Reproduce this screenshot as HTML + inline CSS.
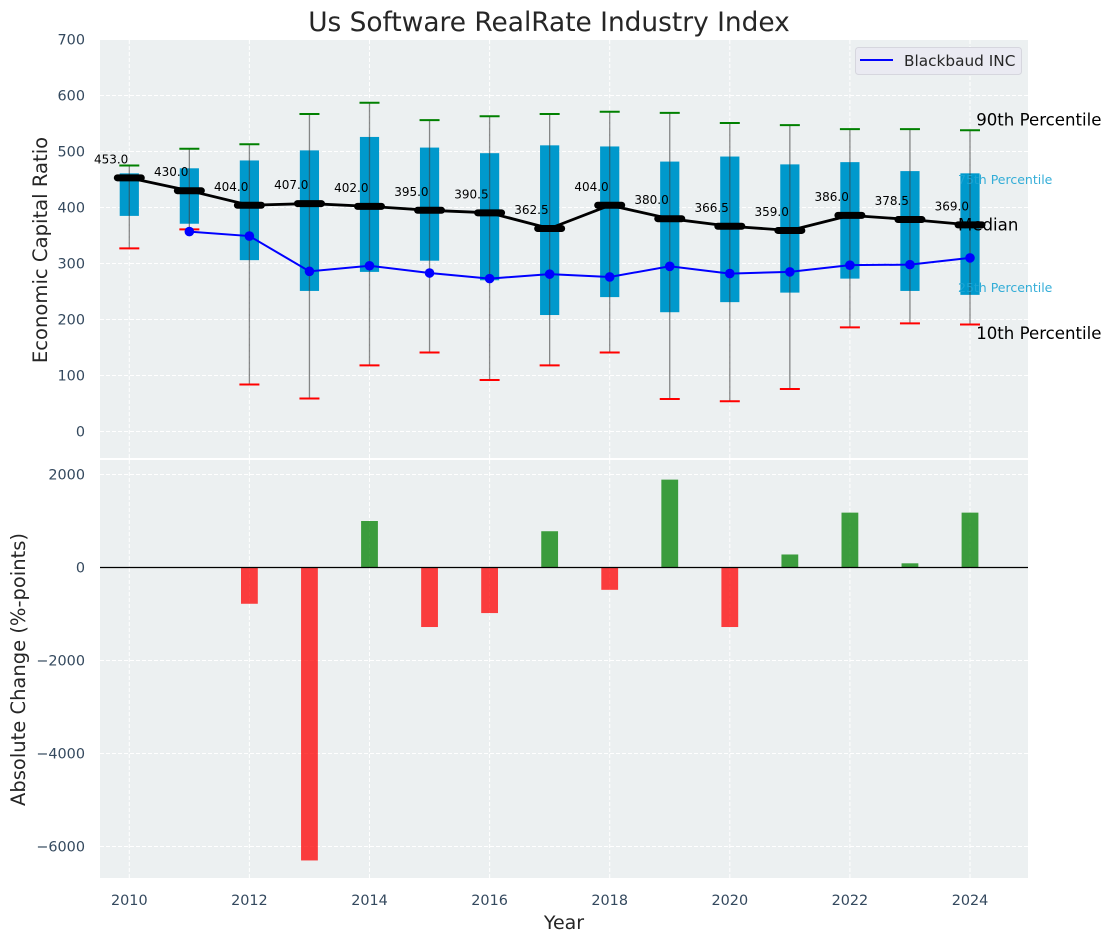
<!DOCTYPE html>
<html>
<head>
<meta charset="utf-8">
<title>Us Software RealRate Industry Index</title>
<style>
html,body{margin:0;padding:0;background:#fff;}
svg{display:block;font-family:"DejaVu Sans","Liberation Sans",sans-serif;}
</style>
</head>
<body>
<svg id="chart" xmlns="http://www.w3.org/2000/svg" width="1111" height="942" viewBox="0 0 1111 942">
  <rect x="100" y="40" width="928" height="418" fill="#ecf0f1"/>
  <rect x="100" y="460" width="928" height="418" fill="#ecf0f1"/>
  <g id="grid"></g>
  <g id="bars"></g>
  <line id="zero" x1="100" x2="1028" stroke="#000" stroke-width="1.2"/>
  <g id="boxes"></g>
  <g id="whiskers"></g>
  <g id="median"></g>
  <g id="company"></g>
  <g id="labels"></g>
  <g id="ticks"></g>
  <g id="notes">
    <text id="note90" font-size="16.6" fill="#000">90th Percentile</text>
    <text id="note75" font-size="12.5" fill="#1fa5d4" fill-opacity="0.9">75th Percentile</text>
    <text id="note50" font-size="16.6" fill="#000">Median</text>
    <text id="note25" font-size="12.5" fill="#1fa5d4" fill-opacity="0.9">25th Percentile</text>
    <text id="note10" font-size="16.6" fill="#000">10th Percentile</text>
  </g>
  <text x="549" y="31" text-anchor="middle" font-size="26.4" fill="#262626">Us Software RealRate Industry Index</text>
  <text transform="translate(47 250) rotate(-90)" text-anchor="middle" font-size="19.6" fill="#262626">Economic Capital Ratio</text>
  <text transform="translate(25 669.5) rotate(-90)" text-anchor="middle" font-size="19.5" fill="#262626">Absolute Change (%-points)</text>
  <text x="564" y="929" text-anchor="middle" font-size="19" fill="#262626">Year</text>
  <g>
    <rect x="855.5" y="47.5" width="166" height="27" rx="3" fill="#eaeaf2" stroke="#d6d6de"/>
    <line x1="860" x2="893" y1="60" y2="60" stroke="#0000ff" stroke-width="2"/>
    <text x="904" y="66" font-size="15.3" fill="#262626">Blackbaud INC</text>
  </g>
</svg>
<script>
const years = [2010,2011,2012,2013,2014,2015,2016,2017,2018,2019,2020,2021,2022,2023,2024];
const p90 = [475,505,513,567,587,556,563,567,571,569,551,547,540,540,538];
const p75 = [461,470,484,502,526,507,497,511,509,482,491,477,481,465,461];
const medianValues = [453,430,404,407,402,395,390.5,362.5,404,380,366.5,359,386,378.5,369];
const p25 = [385,371,306,251,285,305,270,208,240,213,231,248,273,251,244];
const p10 = [327,361,84,59,118,141,92,118,141,58,54,76,186,193,191];
const companyValues = [null,357,349,286,296,283,273,281,276,295,282,285,297,298,310];
const changeValues = [null,null,-780,-6300,1000,-1280,-980,780,-480,1890,-1280,280,1180,90,1180];
const xTicks = [2010,2012,2014,2016,2018,2020,2022,2024];
const upperTicks = [0,100,200,300,400,500,600,700];
const lowerTicks = [-6000,-4000,-2000,0,2000];

const NS = 'http://www.w3.org/2000/svg';
const xOf = v => 129.3 + (v - 2010) * 60.05;
const yUp = v => 431.5 - v * 0.56;
const yLow = v => 567.5 - v * 0.0465;
const byId = id => document.getElementById(id);
function make(tag, parent, attrs, text) {
  const el = document.createElementNS(NS, tag);
  for (const k in attrs) el.setAttribute(k, attrs[k]);
  if (text !== undefined) el.textContent = text;
  parent.appendChild(el);
  return el;
}

const grid = byId('grid');
xTicks.forEach(t => {
  [[40,458],[460,878]].forEach(r => {
    const el = make('line', grid, {x1:xOf(t), x2:xOf(t), y1:r[0], y2:r[1], stroke:'#fff', 'stroke-width':1, 'stroke-dasharray':'4 2'});
    
    
  });
});
upperTicks.forEach(t => {
  const el = make('line', grid, {x1:100, x2:1028, y1:yUp(t), y2:yUp(t), stroke:'#fff', 'stroke-width':1, 'stroke-dasharray':'4 2'});
  
  
});
lowerTicks.forEach(t => {
  const el = make('line', grid, {x1:100, x2:1028, y1:yLow(t), y2:yLow(t), stroke:'#fff', 'stroke-width':1, 'stroke-dasharray':'4 2'});
  
  
});

const tickGroup = byId('ticks');
const fmt = v => (v < 0 ? '\u2212' + Math.abs(v) : String(v));
xTicks.forEach(t => {
  const el = make('text', tickGroup, {x:xOf(t), y:905, 'text-anchor':'middle', 'font-size':14.4, fill:'#34495e'}, String(t));
  
  
});
upperTicks.forEach(t => {
  const el = make('text', tickGroup, {x:85, y:yUp(t)+5, 'text-anchor':'end', 'font-size':14.4, fill:'#34495e'}, fmt(t));
  
  
});
lowerTicks.forEach(t => {
  const el = make('text', tickGroup, {x:85, y:yLow(t)+5, 'text-anchor':'end', 'font-size':14.4, fill:'#34495e'}, fmt(t));
  
  
});

const barGroup = byId('bars');
years.forEach((yr, i) => {
  const v = changeValues[i];
  if (v === null) return;
  const top = Math.min(yLow(v), yLow(0));
  const el = make('rect', barGroup, {x:xOf(yr)-8.4, y:top, width:16.8, height:Math.abs(yLow(v)-yLow(0)), fill:v >= 0 ? '#008000' : '#ff0000', 'fill-opacity':0.75});
  
  
});
byId('zero').setAttribute('y1', yLow(0));
byId('zero').setAttribute('y2', yLow(0));

const boxGroup = byId('boxes');
years.forEach((yr, i) => {
  const el = make('rect', boxGroup, {x:xOf(yr)-9.6, y:yUp(p75[i]), width:19.2, height:yUp(p25[i])-yUp(p75[i]), fill:'#0099cc'});
  
  
});

const whiskerGroup = byId('whiskers');
years.forEach((yr, i) => {
  const x = xOf(yr);
  const stem = make('line', whiskerGroup, {x1:x, x2:x, y1:yUp(p90[i]), y2:yUp(p10[i]), stroke:'#404040', 'stroke-opacity':0.6, 'stroke-width':1.3});
  
  
  const hi = make('line', whiskerGroup, {x1:x-10, x2:x+10, y1:yUp(p90[i]), y2:yUp(p90[i]), stroke:'#008000', 'stroke-width':2});
  
  
  const lo = make('line', whiskerGroup, {x1:x-10, x2:x+10, y1:yUp(p10[i]), y2:yUp(p10[i]), stroke:'#ff0000', 'stroke-width':2});
  
  
});

const medianGroup = byId('median');
const medianLine = make('polyline', medianGroup, {points:years.map((yr,i)=>xOf(yr)+','+yUp(medianValues[i])).join(' '), fill:'none', stroke:'#000', 'stroke-width':2.8, 'stroke-linejoin':'round'});


years.forEach((yr, i) => {
  const el = make('line', medianGroup, {x1:xOf(yr)-12, x2:xOf(yr)+12, y1:yUp(medianValues[i]), y2:yUp(medianValues[i]), stroke:'#000', 'stroke-width':7, 'stroke-linecap':'round'});
  
  
});

const companyGroup = byId('company');
const companyPts = years.map((yr,i)=>companyValues[i]===null?null:xOf(yr)+','+yUp(companyValues[i])).filter(Boolean);
const companyLine = make('polyline', companyGroup, {points:companyPts.join(' '), fill:'none', stroke:'#0000ff', 'stroke-width':2});


years.forEach((yr, i) => {
  if (companyValues[i] === null) return;
  const el = make('circle', companyGroup, {cx:xOf(yr), cy:yUp(companyValues[i]), r:4.8, fill:'#0000ff'});
  
  
});

const labelGroup = byId('labels');
years.forEach((yr, i) => {
  const el = make('text', labelGroup, {x:xOf(yr)-1, y:yUp(medianValues[i])-14.5, 'text-anchor':'end', 'font-size':12, fill:'#000'}, medianValues[i].toFixed(1));
  
  
});

const last = years.length - 1;
const lastX = xOf(years[last]);
const place = (id, x, y) => { byId(id).setAttribute('x', x); byId(id).setAttribute('y', y); };
place('note90', lastX + 6.2, yUp(p90[last]) - 4.5);
place('note75', lastX - 12, yUp(p75[last]) + 10.7);
place('note50', lastX - 12, yUp(medianValues[last]) + 5.5);
place('note25', lastX - 12, yUp(p25[last]) - 3);
place('note10', lastX + 6.2, yUp(p10[last]) + 14.5);
</script>
</body>
</html>
